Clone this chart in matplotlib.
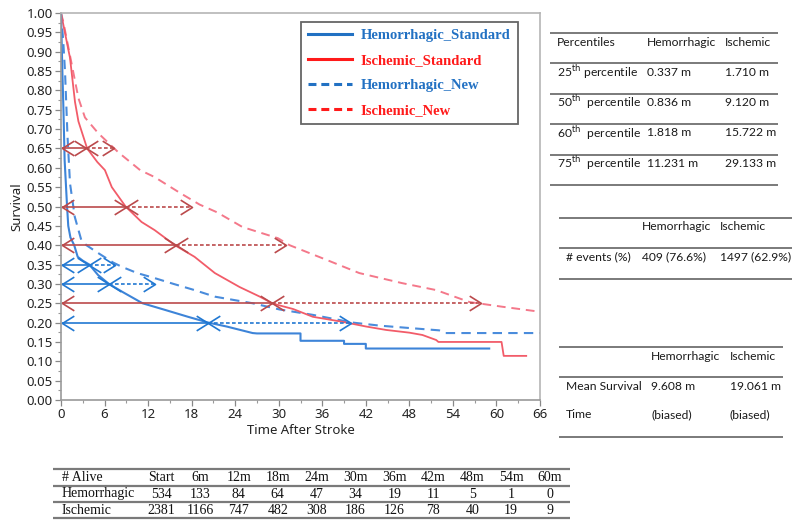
import numpy as np
import matplotlib
matplotlib.use("Agg")
import matplotlib.pyplot as plt
from matplotlib.lines import Line2D
from matplotlib.path import Path

# ---------------- data ----------------
hem_std_t = [0, 0.1, 0.2, 0.337, 0.5, 0.836, 1.0, 1.3, 1.818, 2.3, 3.0, 3.9, 5.1, 6.6, 8.4,
             11.231, 14.3, 17.5, 20.3, 22.8, 26.4, 27.0, 33.0, 33.0, 39.0, 39.0, 42.0, 42.0, 59.0]
hem_std_s = [1.0, 0.92, 0.84, 0.75, 0.62, 0.50, 0.45, 0.42, 0.40, 0.37, 0.36, 0.35, 0.323, 0.30, 0.28,
             0.25, 0.233, 0.215, 0.20, 0.19, 0.173, 0.172, 0.172, 0.153, 0.153, 0.145, 0.145, 0.133, 0.133]

isc_std_t = [0, 1.24, 1.93, 2.4, 3.6, 5.0, 6.05, 7.0, 8.9, 11.1, 12.9, 15.7, 18.4, 21.2, 24.6, 27.4,
             29.1, 30, 32, 34.7, 38.8, 42, 44.8, 48, 49.8, 51.7, 52, 60.7, 61, 64.1]
isc_std_s = [1.0, 0.884, 0.77, 0.72, 0.65, 0.615, 0.594, 0.55, 0.50, 0.46, 0.439, 0.40, 0.37, 0.328, 0.292, 0.267,
             0.25, 0.245, 0.235, 0.215, 0.202, 0.19, 0.181, 0.174, 0.168, 0.155, 0.15, 0.15, 0.114, 0.114]

hem_new_t = [0, 0.3, 0.55, 0.9, 1.24, 1.9, 2.8, 3.5, 5.1, 7.2, 8.4, 10.5, 12.9, 15.5, 18.4, 21.2,
             26.4, 30.1, 34.7, 40.2, 44, 48, 52.1, 53, 66]
hem_new_s = [1.0, 0.93, 0.85, 0.68, 0.56, 0.473, 0.413, 0.40, 0.38, 0.355, 0.344, 0.328, 0.315, 0.30, 0.284, 0.267,
             0.25, 0.234, 0.22, 0.2, 0.192, 0.186, 0.18, 0.173, 0.173]

isc_new_t = [0, 0.32, 1.24, 2.4, 3.3, 5.1, 7.9, 10.9, 12.9, 16.4, 19.1, 21.5, 25.0, 29.9, 31.5, 36.6,
             41.1, 47, 51.7, 56.3, 60.8, 66]
isc_new_s = [1.0, 0.977, 0.89, 0.78, 0.73, 0.69, 0.64, 0.594, 0.576, 0.535, 0.505, 0.485, 0.447, 0.418, 0.40, 0.362,
             0.328, 0.302, 0.284, 0.253, 0.241, 0.228]

red_levels = [0.65, 0.50, 0.40, 0.25]
red_std_x = [3.5, 8.9, 15.8, 29.1]
red_new_x = [7.3, 18.0, 31.0, 57.9]
blue_levels = [0.35, 0.30, 0.20]
blue_std_x = [3.8, 6.6, 20.3]
blue_new_x = [7.4, 12.9, 40.0]

legend_labels = ["Hemorrhagic_Standard", "Ischemic_Standard", "Hemorrhagic_New", "Ischemic_New"]

pct_header = ["Percentiles", "Hemorrhagic", "Ischemic"]
pct_rows = [["25$^{\\mathrm{th}}$ percentile", "0.337 m", "1.710 m"],
            ["50$^{\\mathrm{th}}$  percentile", "0.836 m", "9.120 m"],
            ["60$^{\\mathrm{th}}$  percentile", "1.818 m", "15.722 m"],
            ["75$^{\\mathrm{th}}$  percentile", "11.231 m", "29.133 m"]]
ev_header = ["", "Hemorrhagic", "Ischemic"]
ev_row = ["# events (%)", "409 (76.6%)", "1497 (62.9%)"]
ms_header = ["", "Hemorrhagic", "Ischemic"]
ms_rows = [["Mean Survival", "9.608 m", "19.061 m"],
           ["Time", "(biased)", "(biased)"]]

alive_cols = ["Start", "6m", "12m", "18m", "24m", "30m", "36m", "42m", "48m", "54m", "60m"]
alive_hem = [534, 133, 84, 64, 47, 34, 19, 11, 5, 1, 0]
alive_isc = [2381, 1166, 747, 482, 308, 186, 126, 78, 40, 19, 9]

# ---------------- figure ----------------
W, H = 800, 527
fig = plt.figure(figsize=(8, 5.27), dpi=100)
ax = fig.add_axes([61 / W, 1 - 400 / H, (540 - 61) / W, (400 - 13) / H])

c_blue = "#3d84d8"
c_red = "#f25c69"
c_blue_d = "#4a8cdc"
c_red_d = "#f4788a"
c_arr_red = "#bb4a4c"
c_arr_blue = "#2178d2"

ax.plot(isc_new_t, isc_new_s, color=c_red_d, lw=1.4, ls=(0, (4.5, 3)))
ax.plot(hem_new_t, hem_new_s, color=c_blue_d, lw=1.5, ls=(0, (4.5, 3)))
ax.plot(isc_std_t, isc_std_s, color=c_red, lw=1.3)
ax.plot(hem_std_t, hem_std_s, color=c_blue, lw=1.5)

left_chev = Path([(1.6, 1), (0, 0), (1.6, -1)], [Path.MOVETO, Path.LINETO, Path.LINETO])
right_chev = Path([(-1.6, 1), (0, 0), (-1.6, -1)], [Path.MOVETO, Path.LINETO, Path.LINETO])


def arrow(x0, x1, y, color, dashed):
    ls = (0, (2.2, 1.4)) if dashed else "-"
    ax.plot([x0, x1], [y, y], color=color, lw=1.2, ls=ls, solid_capstyle="butt")
    ax.plot([x0], [y], marker=left_chev, ms=17, mfc="none", mec=color, mew=1.2, ls="none")
    ax.plot([x1], [y], marker=right_chev, ms=17, mfc="none", mec=color, mew=1.2, ls="none")


for lv, xs, xn in zip(red_levels, red_std_x, red_new_x):
    arrow(0.1, xs, lv, c_arr_red, False)
    arrow(xs, xn, lv, c_arr_red, True)
for lv, xs, xn in zip(blue_levels, blue_std_x, blue_new_x):
    arrow(0.1, xs, lv, c_arr_blue, False)
    arrow(xs, xn, lv, c_arr_blue, True)

ax.set_xlim(0, 66)
ax.set_ylim(0, 1.0)
ax.set_xticks(np.arange(0, 67, 6))
ax.set_xticks(np.arange(0, 67, 3), minor=True)
ax.set_yticks(np.arange(0, 1.001, 0.05))
ax.set_yticks(np.arange(0, 1.001, 0.025), minor=True)
ax.set_yticklabels([f"{v:.2f}" for v in np.arange(0, 1.001, 0.05)])
tick_font = "Noto Sans"
for lab in ax.get_xticklabels() + ax.get_yticklabels():
    lab.set_fontfamily(tick_font)
    lab.set_fontsize(9.5)
    lab.set_color("#222222")
ax.tick_params(which="major", length=4, width=0.9, color="#888888", pad=2)
ax.tick_params(which="minor", length=2.5, width=0.8, color="#999999")
for sp in ax.spines.values():
    sp.set_color("#b5b5b5")
    sp.set_linewidth(1.2)
ax.spines["left"].set_color("#9a9a9a")
ax.spines["bottom"].set_color("#9a9a9a")
ax.set_xlabel("Time After Stroke", fontfamily=tick_font, fontsize=9.5, labelpad=2, color="#222222")
ax.set_ylabel("Survival", fontfamily=tick_font, fontsize=9.5, labelpad=2, color="#222222")

leg_colors = ["#2271c3", "#ff1a1a", "#2271c3", "#ff1a1a"]
leg_ls = ["-", "-", (0, (2.6, 1.6)), (0, (2.6, 1.6))]
handles = [Line2D([0], [0], color=c, lw=2.2, ls=l) for c, l in zip(leg_colors, leg_ls)]
leg = ax.legend(handles, legend_labels, loc="upper left", bbox_to_anchor=(0.501, 0.977),
                borderaxespad=0, frameon=True, fancybox=False, handlelength=3.0,
                handletextpad=0.6, labelspacing=0.8, borderpad=0.5,
                prop={"family": "Liberation Serif", "weight": "bold", "size": 10.5})
leg.get_frame().set_edgecolor("#404040")
leg.get_frame().set_linewidth(1.3)
for t, c in zip(leg.get_texts(), leg_colors):
    t.set_color(c)

# ---------------- overlay for tables (pixel coordinates) ----------------
ov = fig.add_axes([0, 0, 1, 1], zorder=5)
ov.set_xlim(0, W)
ov.set_ylim(H, 0)
ov.axis("off")
ov.patch.set_alpha(0)

tfont = dict(family="Lato", size=8.7, color="#1a1a1a", va="center", ha="left")
lcol = "#7a7a7a"


def hline(x0, x1, y, lw=1.4):
    ov.plot([x0, x1], [y, y], color=lcol, lw=lw, solid_capstyle="butt")


# percentile table
for y in [33, 63, 94, 124, 155, 185]:
    hline(550, 778, y)
cols1 = [557, 647, 725]
for x, s in zip(cols1, pct_header):
    ov.text(x, 42, s, **tfont)
for r, row in enumerate(pct_rows):
    for x, s in zip(cols1, row):
        ov.text(x, 72 + 30.5 * r, s, **tfont)

# events table
for y in [218, 248, 279]:
    hline(559, 792, y)
cols2 = [566, 642, 720]
for x, s in zip(cols2, ev_header):
    ov.text(x, 227, s, **tfont)
for x, s in zip(cols2, ev_row):
    ov.text(x, 257, s, **tfont)

# mean survival table
for y in [347, 377, 437]:
    hline(559, 783, y)
cols3 = [566, 651, 730]
for x, s in zip(cols3, ms_header):
    ov.text(x, 356, s, **tfont)
for r, row in enumerate(ms_rows):
    for x, s in zip(cols3, row):
        ov.text(x, 386 + 29 * r, s, **tfont)

# alive table
for y in [469, 486, 502, 518]:
    hline(53, 570, y, lw=1.6)
sfont = dict(family="Liberation Serif", size=10, color="#111111", va="center")
col_x = np.linspace(161, 550, len(alive_cols))
ov.text(62, 477.5, "# Alive", ha="left", **sfont)
ov.text(62, 494, "Hemorrhagic", ha="left", **sfont)
ov.text(62, 510, "Ischemic", ha="left", **sfont)
for x, c, a, b in zip(col_x, alive_cols, alive_hem, alive_isc):
    ov.text(x, 477.5, c, ha="center", **sfont)
    ov.text(x, 494, str(a), ha="center", **sfont)
    ov.text(x, 510, str(b), ha="center", **sfont)

fig.savefig("out.png", dpi=100)
